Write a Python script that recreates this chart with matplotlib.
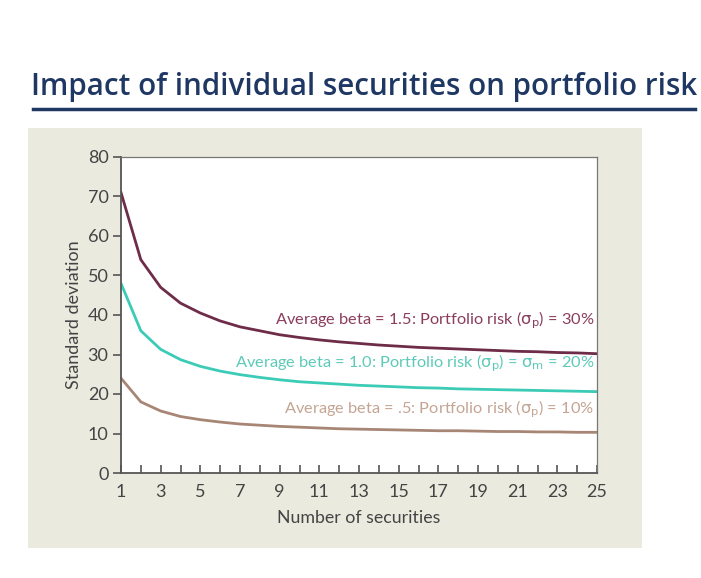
import matplotlib
matplotlib.use("Agg")
import matplotlib.pyplot as plt
from matplotlib.patches import Rectangle
from matplotlib.lines import Line2D

# number of securities in the portfolio
n_securities = list(range(1, 26))

# standard deviation (%)
sd_beta_15 = [71, 54, 47, 43, 40.5, 38.5, 37, 36, 35, 34.3, 33.7, 33.2, 32.8,
              32.4, 32.1, 31.8, 31.6, 31.4, 31.2, 31.0, 30.8, 30.7, 30.5, 30.4, 30.2]
sd_beta_10 = [48, 36, 31.3, 28.7, 27, 25.8, 24.9, 24.2, 23.6, 23.1, 22.8, 22.5, 22.2,
              22.0, 21.8, 21.6, 21.5, 21.3, 21.2, 21.1, 21.0, 20.9, 20.8, 20.7, 20.6]
sd_beta_05 = [24, 18, 15.7, 14.3, 13.5, 12.9, 12.4, 12.1, 11.8, 11.6, 11.4, 11.2, 11.1,
              11.0, 10.9, 10.8, 10.7, 10.7, 10.6, 10.5, 10.5, 10.4, 10.4, 10.3, 10.3]

labels = [
    r"Average beta = 1.5: Portfolio risk ($\mathrm{\sigma_p}$) = 30%",
    r"Average beta = 1.0: Portfolio risk ($\mathrm{\sigma_p}$) = $\mathrm{\sigma_m}$ = 20%",
    r"Average beta = .5: Portfolio risk ($\mathrm{\sigma_p}$) = 10%",
]
label_y = [38.7, 27.8, 16.2]

line_colors = ["#6e2c48", "#3ccbb6", "#a88676"]
text_colors = ["#8a3d5c", "#5dcab9", "#c4a594"]

W, H = 701, 578
fig = plt.figure(figsize=(W / 100, H / 100), dpi=100)
fig.patch.set_facecolor("white")
plt.rcParams["mathtext.fontset"] = "dejavusans"

# beige panel behind the chart
fig.patches.append(Rectangle((28 / W, 1 - 548 / H), 614 / W, 420 / H,
                             transform=fig.transFigure, facecolor="#ebeadf",
                             edgecolor="none", zorder=-5))

# title + underline
fig.text(364 / W, 1 - 87 / H, "Impact of individual securities on portfolio risk",
         ha="center", va="center", fontsize=21.3, color="#1f3763",
         family="Open Sans", fontweight="semibold")
fig.lines.append(Line2D([33 / W, 695 / W], [1 - 109 / H, 1 - 109 / H],
                        transform=fig.transFigure, color="#1f3763", lw=2.5))

ax = fig.add_axes([121 / W, 1 - 473 / H, 476 / W, 316 / H])
ax.set_facecolor("white")

for ys, c in zip([sd_beta_15, sd_beta_10, sd_beta_05], line_colors):
    ax.plot(n_securities, ys, color=c, lw=2.0)

for txt, y, c in zip(labels, label_y, text_colors):
    ax.text(24.85, y, txt, ha="right", va="center", fontsize=11.8, color=c, family="Lato")

ax.set_xlim(1, 25)
ax.set_ylim(0, 80)
ax.set_xticks(n_securities, minor=False)
ax.set_xticklabels([str(v) if v % 2 == 1 else "" for v in n_securities])
ax.set_yticks(range(0, 81, 10))

ax.tick_params(axis="x", direction="in", length=6, width=1.2, colors="#555555",
               labelcolor="#444444", labelsize=13, pad=8)
ax.tick_params(axis="y", direction="out", length=6, width=1.2, colors="#555555",
               labelcolor="#444444", labelsize=13, pad=3)
for lab in ax.get_xticklabels() + ax.get_yticklabels():
    lab.set_family("Lato")

for side in ["left", "bottom"]:
    ax.spines[side].set_color("#555555")
    ax.spines[side].set_linewidth(1.3)
for side in ["top", "right"]:
    ax.spines[side].set_color("#777777")
    ax.spines[side].set_linewidth(0.9)

ax.set_xlabel("Number of securities", fontsize=12.8, color="#444444", family="Lato", labelpad=7)
ax.set_ylabel("Standard deviation", fontsize=13, color="#444444", family="Lato", labelpad=4)

fig.savefig("out.png", dpi=100)
